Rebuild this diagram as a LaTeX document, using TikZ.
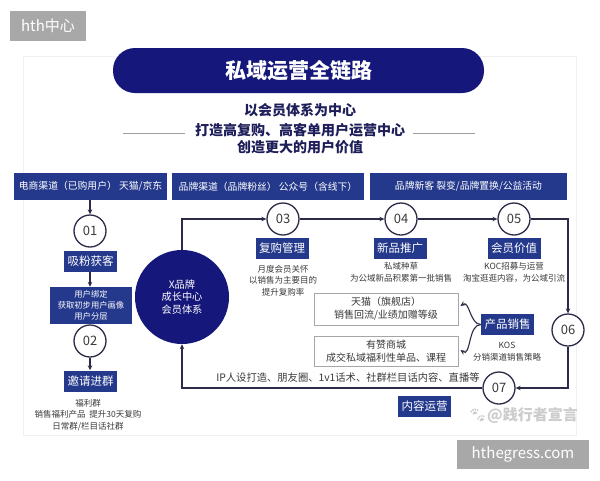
\documentclass[tikz,border=0pt]{standalone}
\usepackage{fontspec}
\setmainfont{Noto Sans CJK SC}
\newfontfamily\emojifont{Noto Emoji}
\usetikzlibrary{arrows.meta,calc}
\definecolor{navy}{HTML}{15177A}
\definecolor{boxblue}{HTML}{24398C}
\definecolor{linec}{HTML}{2B2B48}
\definecolor{txtc}{HTML}{1E1E5A}
\definecolor{graytag}{HTML}{A8A8A8}
\definecolor{subgray}{HTML}{3A3A3A}
\begin{document}
\begin{tikzpicture}[x=1pt,y=-1pt,
  tag/.style={fill=graytag,text=white,inner sep=0pt,font=\fontsize{15}{15}\selectfont},
  chbox/.style={fill=boxblue,text=white,inner sep=0pt,minimum height=27pt,font=\fontsize{9.8}{10}\selectfont},
  lblbox/.style={fill=boxblue,text=white,inner sep=0pt,minimum width=53pt,minimum height=21pt,font=\fontsize{11.5}{12}\selectfont},
  numc/.style={circle,draw=linec,line width=1.3pt,fill=white,minimum size=32pt,inner sep=0pt,text=subgray,font=\fontsize{13}{13}\selectfont},
  conn/.style={draw=linec,line width=1.1pt,-{Stealth[length=5pt,width=4.5pt]}},
  subtxt/.style={text=subgray,align=center,inner sep=0pt,font=\fontsize{8.5}{11.7}\selectfont},
  wbox/.style={draw=gray!70,line width=0.9pt,fill=white,align=center,inner sep=0pt,text=subgray,font=\fontsize{10}{13}\selectfont},
  headline/.style={text=txtc,inner sep=0pt,font=\fontsize{14}{14}\selectfont\bfseries}
]
\useasboundingbox (0,0) rectangle (600,480);
\fill[white] (0,0) rectangle (600,480);
% panel
\draw[gray!12,line width=0.8pt] (23,56) rectangle (576,435);
% tags
\node[tag,minimum width=76pt,minimum height=30pt] (tagA) at (48,26) {hth中心};
\node[tag,minimum width=132pt,minimum height=29pt] (tagB) at (523,454.5) {hthegress.com};
% title
\node[fill=navy,rounded corners=22pt,minimum width=371pt,minimum height=45pt,inner sep=0pt,text=white,font=\fontsize{21}{21}\selectfont\bfseries] (title) at (298.5,70.5) {私域运营全链路};
\node[headline] (h1) at (300,110) {以会员体系为中心};
\node[headline] (h2) at (300,130) {打造高复购、高客单用户运营中心};
\node[headline] (h3) at (300,147.5) {创造更大的用户价值};
\draw[gray!75,line width=0.8pt] (123,133) -- (185,133);
\draw[gray!75,line width=0.8pt] (413,133) -- (475,133);
% channel boxes
\node[chbox,minimum width=153pt] (ch1) at (90.5,186.5) {电商渠道（已购用户）\ 天猫/京东};
\node[chbox,minimum width=192pt] (ch2) at (268,186.5) {品牌渠道（品牌粉丝）\ 公众号（含线下）};
\node[chbox,minimum width=197pt] (ch3) at (468.5,186.5) {品牌新客\ 裂变/品牌置换/公益活动};
% left column
\node[numc] (c01) at (90,231) {01};
\node[lblbox] (xf) at (90.5,261) {吸粉获客};
\node[fill=boxblue,text=white,inner sep=0pt,minimum width=82pt,minimum height=37pt,align=center,font=\fontsize{8.3}{11}\selectfont] (ub) at (91,305.5) {用户绑定\\获取初步用户画像\\用户分层};
\node[numc] (c02) at (90,341) {02};
\node[lblbox] (yq) at (90.5,381) {邀请进群};
\node[subtxt] (tl) at (88,415) {福利群\\销售福利产品\ \ 提升30天复购\\日常群/栏目话社群};
% big circle
\node[circle,fill=navy,minimum size=94pt,inner sep=0pt,text=white,align=center,font=\fontsize{10.2}{12.5}\selectfont] (big) at (182,297) {X品牌\\成长中心\\会员体系};
% top row
\node[numc] (c03) at (283,219) {03};
\node[numc] (c04) at (401,219) {04};
\node[numc] (c05) at (514,219) {05};
\node[numc] (c06) at (568,330) {06};
\node[numc] (c07) at (499,388) {07};
\node[lblbox] (fg) at (282,248.5) {复购管理};
\node[lblbox] (xp) at (400,248.5) {新品推广};
\node[lblbox] (hy) at (514,248.5) {会员价值};
\node[subtxt] (t03) at (283,280.7) {月度会员关怀\\以销售为主要目的\\提升复购率};
\node[subtxt] (t04) at (401,272.5) {私域种草\\为公域新品积累第一批销售};
\node[subtxt] (t05) at (514,272.5) {KOC招募与运营\\淘宝逛逛内容，为公域引流};
% sales
\node[wbox,minimum width=144pt,minimum height=32pt] (tm) at (386,309) {天猫（旗舰店）\\销售回流/业绩加赠等级};
\node[wbox,minimum width=144pt,minimum height=30pt] (yz) at (386,351) {有赞商城\\成交私域福利性单品、课程};
\node[lblbox] (cp) at (507.5,324.5) {产品销售};
\node[subtxt] (tkos) at (507,351.5) {KOS\\分销渠道销售策略};
\node[text=subgray,inner sep=0pt,font=\fontsize{10.3}{11}\selectfont] (tip) at (348,377.5) {IP人设打造、朋友圈、1v1话术、社群栏目话内容、直播等};
\node[lblbox] (nr) at (424.5,406.5) {内容运营};
\node[text=gray!40,inner sep=0pt,font=\fontsize{15}{15}\selectfont\bfseries] (wm) at (523,416) {{\emojifont 🐾}@践行者宣言};
% connectors
\draw[conn] (ch1.south -| c01) -- (c01.north);
\draw[conn] (xf.south -| c01) -- (ub.north -| c01);
\draw[conn] (c02.south) -- (yq.north -| c02);
\draw[conn] (big.north) |- (c03.west);
\draw[conn] (c03.east) -- (c04.west);
\draw[conn] (c04.east) -- (c05.west);
\draw[conn] (c05.east) -| (c06.north);
\draw[conn] (c06.south) |- (c07.east);
\draw[conn] (c07.west) -| (big.south);
\draw[conn] (cp.west) to[out=180,in=35] ($(tm.east)+(2,-3)$);
\draw[conn] (cp.west) to[out=180,in=-35] ($(yz.east)+(2,-1)$);
\end{tikzpicture}
\end{document}
